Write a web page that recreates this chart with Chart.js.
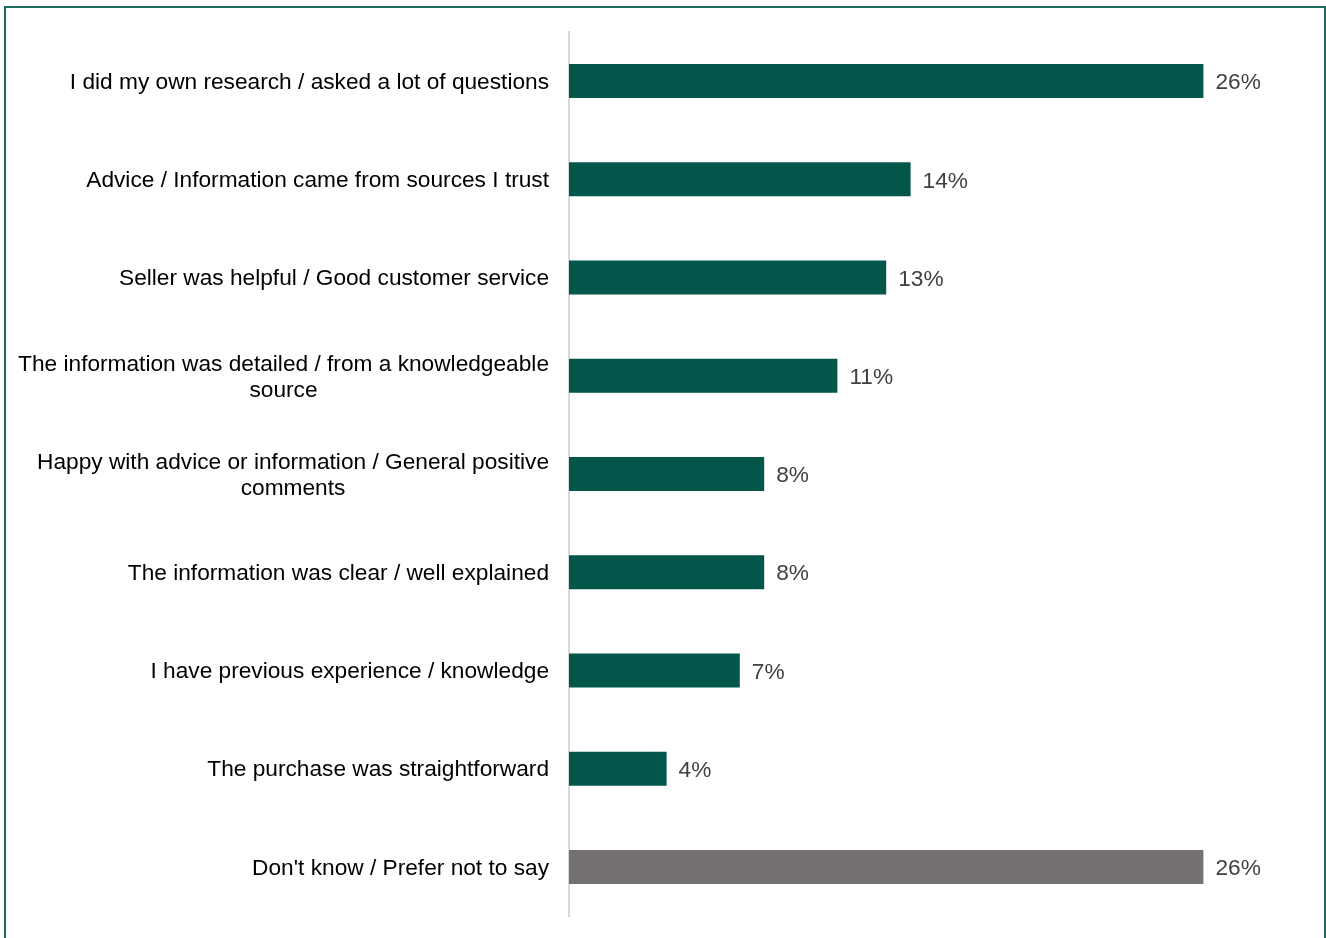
<!DOCTYPE html>
<html>
<head>
<meta charset="utf-8">
<script src="https://cdn.jsdelivr.net/npm/chart.js@4.4.1/dist/chart.umd.min.js"></script>
<style>
  html, body { margin: 0; padding: 0; background: #fff; overflow: hidden; }
  #frame {
    position: absolute; left: 4px; top: 6px; width: 1322px; height: 960px;
    border: 2px solid #1b6a5b; box-sizing: border-box;
  }
  #wrap { position: absolute; left: 0; top: 0; width: 1326px; height: 938px; }
</style>
</head>
<body>
<div id="frame"></div>
<div id="wrap"><canvas id="chart"></canvas></div>
<script>
const categories = [
  ['I did my own research / asked a lot of questions'],
  ['Advice / Information came from sources I trust'],
  ['Seller was helpful / Good customer service'],
  ['The information was detailed / from a knowledgeable', 'source'],
  ['Happy with advice or information / General positive', 'comments'],
  ['The information was clear / well explained'],
  ['I have previous experience / knowledge'],
  ['The purchase was straightforward'],
  ["Don't know / Prefer not to say"]
];
const percentages = [26, 14, 13, 11, 8, 8, 7, 4, 26];
const barColors = ['#03564a', '#03564a', '#03564a', '#03564a', '#03564a', '#03564a', '#03564a', '#03564a', '#767171'];

const FONT = '"Liberation Sans", Arial, sans-serif';
const FONT_SIZE = 22.7;

// category labels: right edge flush with the gap before the axis, extra lines centred under the first
const categoryLabels = {
  id: 'categoryLabels',
  afterDraw(chart) {
    const { ctx } = chart;
    const y = chart.scales.y;
    const right = y.right - 20;
    ctx.save();
    ctx.font = FONT_SIZE + 'px ' + FONT;
    ctx.fillStyle = '#000';
    ctx.textBaseline = 'middle';
    ctx.textAlign = 'center';
    categories.forEach((lines, i) => {
      const cy = y.getPixelForValue(i) + 1.5;
      const w = Math.max(...lines.map(l => ctx.measureText(l).width));
      const cx = right - w / 2;
      const lh = 26;
      const top = cy - (lines.length - 1) * lh / 2;
      lines.forEach((l, j) => ctx.fillText(l, cx, top + j * lh));
    });
    ctx.restore();
  }
};

// value labels after each bar end
const valueLabels = {
  id: 'valueLabels',
  afterDatasetsDraw(chart) {
    const { ctx } = chart;
    const meta = chart.getDatasetMeta(0);
    ctx.save();
    ctx.font = FONT_SIZE + 'px ' + FONT;
    ctx.fillStyle = '#404040';
    ctx.textBaseline = 'middle';
    ctx.textAlign = 'left';
    meta.data.forEach((bar, i) => {
      ctx.fillText(percentages[i] + '%', bar.x + 12, bar.y + 2);
    });
    ctx.restore();
  }
};

new Chart(document.getElementById('chart'), {
  type: 'bar',
  data: {
    labels: categories,
    datasets: [{
      data: percentages,
      backgroundColor: barColors,
      borderWidth: 0,
      categoryPercentage: 0.346,
      barPercentage: 1
    }]
  },
  plugins: [categoryLabels, valueLabels],
  options: {
    indexAxis: 'y',
    responsive: true,
    maintainAspectRatio: false,
    animation: false,
    layout: { padding: { top: 32, bottom: 22, right: 25, left: 0 } },
    scales: {
      x: {
        display: false,
        min: 0,
        max: 30
      },
      y: {
        grid: { display: false, drawTicks: false },
        border: { display: true, color: '#d9d9d9', width: 2 },
        ticks: { display: false },
        afterFit(scale) { scale.width = 569; }
      }
    },
    plugins: {
      legend: { display: false },
      tooltip: { enabled: false }
    }
  }
});
</script>
</body>
</html>
